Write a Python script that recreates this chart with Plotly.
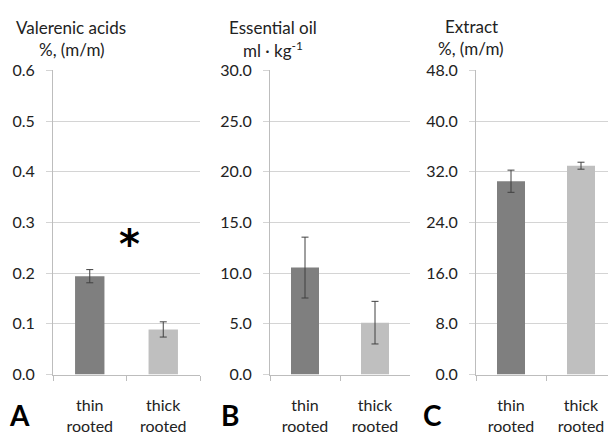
import plotly.graph_objects as go

categories = ["thin<br>rooted", "thick<br>rooted"]
valerenic = [0.194, 0.089]
valerenic_err = [0.013, 0.015]
oil = [10.55, 5.12]
oil_err = [3.0, 2.1]
extract = [30.5, 32.95]
extract_err = [1.75, 0.55]

a_ticks = [0.0, 0.1, 0.2, 0.3, 0.4, 0.5, 0.6]
b_ticks = [0.0, 5.0, 10.0, 15.0, 20.0, 25.0, 30.0]
c_ticks = [0.0, 8.0, 16.0, 24.0, 32.0, 40.0, 48.0]

bar_colors = ["#7f7f7f", "#bfbfbf"]
FONT = "Lato"
TXT = "#222222"
GRID = "#d4d4d4"
AX = "#bdbdbd"

W, H = 608, 441
y0, y1 = (H - 381) / H, (H - 63) / H

fig = go.Figure()
panels = [
    (valerenic, valerenic_err, a_ticks, "{:.1f}", (53, 200), 1.5),
    (oil, oil_err, b_ticks, "{:.1f}", (270, 410), 1.5),
    (extract, extract_err, c_ticks, "{:.1f}", (476, 608), (608 - 476) / 70 - 0.5),
]
layout = {}
for i, (vals, errs, ticks, fmt, (xl, xr), xmax) in enumerate(panels, start=1):
    xa = "x" if i == 1 else f"x{i}"
    ya = "y" if i == 1 else f"y{i}"
    fig.add_trace(go.Bar(
        x=categories, y=vals, marker_color=bar_colors, width=0.4,
        marker_line_width=0,
        error_y=dict(type="data", array=errs, color="#404040", thickness=1, width=3.5),
        xaxis=xa, yaxis=ya, showlegend=False,
    ))
    xk = "xaxis" if i == 1 else f"xaxis{i}"
    yk = "yaxis" if i == 1 else f"yaxis{i}"
    layout[xk] = dict(
        domain=[xl / W, xr / W], anchor=ya, range=[-0.5, xmax], type="category",
        showline=True, linecolor=AX, linewidth=1, ticks="outside", tickson="boundaries",
        ticklen=5, tickcolor=AX, showgrid=False, ticklabelstandoff=16,
        tickfont=dict(family=FONT, size=16, color=TXT), fixedrange=True,
    )
    layout[yk] = dict(
        domain=[y0, y1], anchor=xa, range=[0, ticks[-1]], tickvals=ticks,
        ticktext=[fmt.format(t) for t in ticks],
        showline=True, linecolor=AX, linewidth=1, showgrid=True, gridcolor=GRID,
        gridwidth=1, ticks="outside", ticklen=6, tickcolor=GRID, zeroline=False,
        tickfont=dict(family=FONT, size=16, color=TXT), ticklabelstandoff=8,
    )

fig.update_layout(width=W, height=H, margin=dict(l=0, r=0, t=0, b=0),
                  plot_bgcolor="white", paper_bgcolor="white", **layout)

def ann(x, y, text, size=16, bold=False, family=FONT):
    fig.add_annotation(x=x / W, y=1 - y / H, xref="paper", yref="paper", text=text,
                       showarrow=False, xanchor="center", yanchor="middle",
                       font=dict(family=family, size=size, color=TXT if not bold else "#000"))

ann(71, 18, "Valerenic acids", size=17)
ann(72, 41, "%, (m/m)", size=17)
ann(273, 18, "Essential oil", size=17)
ann(273, 41, "ml · kg<sup>-1</sup>", size=17)
ann(471, 17, "Extract", size=17)
ann(471, 40, "%, (m/m)", size=17)
ann(129, 245, "<b>*</b>", size=40, bold=True, family="DejaVu Sans")
ann(19, 423, "<b>A</b>", size=28, bold=True)
ann(230, 423, "<b>B</b>", size=28, bold=True)
ann(432, 423, "<b>C</b>", size=28, bold=True)

fig.write_html("out.html")
